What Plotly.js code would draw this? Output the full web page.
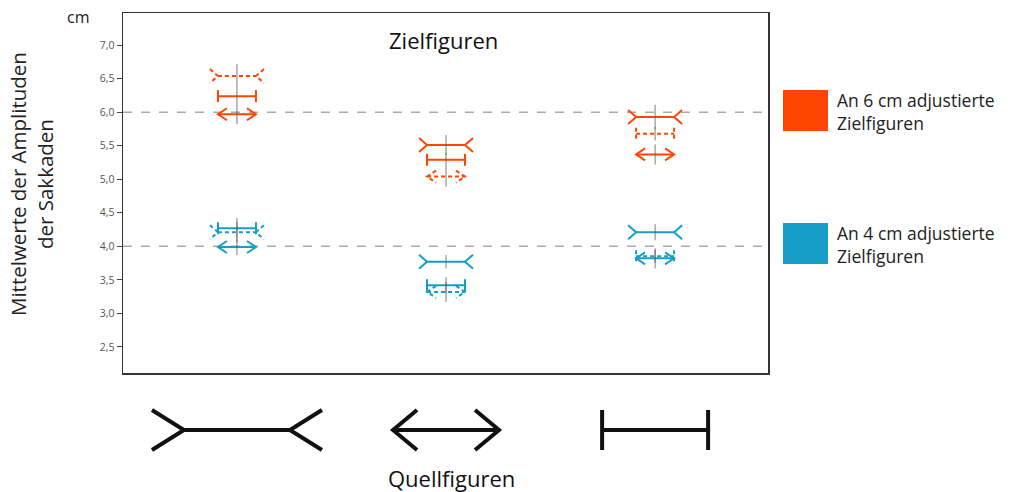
<!DOCTYPE html>
<html>
<head>
<meta charset="utf-8">
<script src="https://cdn.plot.ly/plotly-3.0.1.min.js"></script>
<style>html,body{margin:0;padding:0;background:#fff}#chart{width:1014px;height:492px}</style>
</head>
<body>
<div id="chart"></div>
<script>
// ---- data ----
// source figures (Quellfiguren) on the x axis, in order
var sourceFigures = ['finsOut', 'arrows', 'bars'];
// mean saccade amplitudes (cm) per target figure, adjusted to 6 cm
var finsOut6 = [6.54, 5.51, 5.93];
var bars6    = [6.24, 5.29, 5.68];
var arrows6  = [5.97, 5.04, 5.37];
// half-length of the vertical error lines
var finsOut6Err = [0.18, 0.15, 0.18];
var bars6Err    = [0.12, 0.10, 0.10];
var arrows6Err  = [0.15, 0.15, 0.15];
// adjusted to 4 cm
var finsOut4 = [4.21, 3.77, 4.21];
var bars4    = [4.27, 3.42, 3.85];
var arrows4  = [3.99, 3.32, 3.82];
var finsOut4Err = [0.15, 0.10, 0.12];
var bars4Err    = [0.15, 0.12, 0.10];
var arrows4Err  = [0.12, 0.15, 0.15];
var referenceLines = [4, 6];
var yTickVals = [2.5, 3.0, 3.5, 4.0, 4.5, 5.0, 5.5, 6.0, 6.5, 7.0];
var yTickText = ['2,5', '3,0', '3,5', '4,0', '4,5', '5,0', '5,5', '6,0', '6,5', '7,0'];
var legendNames = ['An 6 cm adjustierte<br>Zielfiguren', 'An 4 cm adjustierte<br>Zielfiguren'];

// ---- styles / geometry ----
var ORANGE = '#ff4500', BLUE = '#159fc8';
var FONT = 'Open Sans, sans-serif';
var W = 1014, H = 492, ML = 123, MR = 246, MT = 13, MB = 0;
var plotW = W - ML - MR, plotH = H - MT - MB;
var mainBottomPx = 373;
var mainDomainBottom = (H - MB - mainBottomPx) / plotH;
var xRange = [-0.545, 2.54];
var yRange = [2.11, 7.48];
var pxPerX = plotW / (xRange[1] - xRange[0]);
var pxPerY = (mainBottomPx - MT) / (yRange[1] - yRange[0]);
function px2x(p){ return p / pxPerX; }
function px2y(p){ return p / pxPerY; }
function paperX(px){ return (px - ML) / plotW; }
function paperY(py){ return (H - MB - py) / plotH; }

// build polyline for a figure kind
function figure(kind, cx, cy, w, fx, fy, out) {
  function seg(pts){ pts.forEach(function(p){ out.x.push(p[0]); out.y.push(p[1]); }); out.x.push(null); out.y.push(null); }
  if (kind === 'finsOut') {
    seg([[cx - w - fx, cy + fy], [cx - w, cy], [cx - w - fx, cy - fy]]);
    seg([[cx - w, cy], [cx + w, cy]]);
    seg([[cx + w + fx, cy + fy], [cx + w, cy], [cx + w + fx, cy - fy]]);
  } else if (kind === 'arrows') {
    seg([[cx - w + fx, cy + fy], [cx - w, cy], [cx - w + fx, cy - fy]]);
    seg([[cx - w, cy], [cx + w, cy]]);
    seg([[cx + w - fx, cy + fy], [cx + w, cy], [cx + w - fx, cy - fy]]);
  } else {
    seg([[cx - w, cy + fy], [cx - w, cy - fy]]);
    seg([[cx - w, cy], [cx + w, cy]]);
    seg([[cx + w, cy + fy], [cx + w, cy - fy]]);
  }
}
var mini = {
  finsOut: {w: px2x(19), fx: px2x(8), fy: px2y(7)},
  arrows:  {w: px2x(19), fx: px2x(9), fy: px2y(6)},
  bars:    {w: px2x(19), fx: 0,        fy: px2y(6)}
};

var groups = [
  {color: ORANGE, vals: {finsOut: finsOut6, arrows: arrows6, bars: bars6}, errs: {finsOut: finsOut6Err, arrows: arrows6Err, bars: bars6Err}},
  {color: BLUE,   vals: {finsOut: finsOut4, arrows: arrows4, bars: bars4}, errs: {finsOut: finsOut4Err, arrows: arrows4Err, bars: bars4Err}}
];

var traces = [];
groups.forEach(function(g){
  var solid = {x: [], y: []}, dotted = {x: [], y: []};
  var ex = [], ey = [], ee = [];
  sourceFigures.forEach(function(src, i){
    ['finsOut', 'bars', 'arrows'].forEach(function(kind){
      var m = mini[kind];
      var target = (kind === src) ? dotted : solid;
      figure(kind, i, g.vals[kind][i], m.w, m.fx, m.fy, target);
      ex.push(i); ey.push(g.vals[kind][i]); ee.push(g.errs[kind][i]);
    });
  });
  traces.push({type: 'scatter', mode: 'lines', x: solid.x, y: solid.y, xaxis: 'x', yaxis: 'y',
    line: {color: g.color, width: 2}, hoverinfo: 'skip', showlegend: false});
  traces.push({type: 'scatter', mode: 'lines', x: dotted.x, y: dotted.y, xaxis: 'x', yaxis: 'y',
    line: {color: g.color, width: 2, dash: '4px,3px'}, hoverinfo: 'skip', showlegend: false});
  traces.push({type: 'scatter', mode: 'markers', x: ex, y: ey, xaxis: 'x', yaxis: 'y',
    marker: {size: 1, opacity: 0}, showlegend: false, hoverinfo: 'skip',
    error_y: {type: 'data', array: ee, visible: true, color: 'rgba(90,90,90,0.8)', thickness: 1, width: 0}});
});

// big source figures below the plot (y2 in pixel units)
var big = {
  finsOut: {w: px2x(53), fx: px2x(32), fy: 20},
  arrows:  {w: px2x(53), fx: px2x(24), fy: 20},
  bars:    {w: px2x(53), fx: 0,        fy: 20}
};
var bigPts = {x: [], y: []};
var y2DomainTopPx = 390;
var y2Top = H - MB - y2DomainTopPx;
sourceFigures.forEach(function(src, i){
  var b = big[src];
  figure(src, i, H - MB - 430, b.w, b.fx, b.fy, bigPts);
});
traces.push({type: 'scatter', mode: 'lines', x: bigPts.x, y: bigPts.y, xaxis: 'x2', yaxis: 'y2',
  line: {color: '#111', width: 4}, hoverinfo: 'skip', showlegend: false});

var shapes = referenceLines.map(function(v){
  return {type: 'line', xref: 'paper', yref: 'y', x0: 0, x1: 1, y0: v, y1: v,
    line: {color: '#aaaaaa', width: 1.5, dash: 'dash'}, layer: 'below'};
});
// legend swatches
var swatches = [{color: ORANGE, top: 90}, {color: BLUE, top: 223}];
var annotations = [];
swatches.forEach(function(s, i){
  shapes.push({type: 'rect', xref: 'paper', yref: 'paper',
    x0: paperX(783), x1: paperX(828), y0: paperY(s.top + 41), y1: paperY(s.top),
    fillcolor: s.color, line: {width: 0}});
  annotations.push({xref: 'paper', yref: 'paper', x: paperX(835), y: paperY(s.top + 21),
    xanchor: 'left', yanchor: 'middle', align: 'left', showarrow: false,
    text: legendNames[i], font: {family: FONT, size: 17.5, color: '#222'}});
});
annotations.push({xref: 'paper', yref: 'paper', x: paperX(443), y: paperY(40), xanchor: 'center', yanchor: 'middle',
  showarrow: false, text: 'Zielfiguren', font: {family: FONT, size: 22, color: '#111'}});
annotations.push({xref: 'paper', yref: 'paper', x: paperX(451), y: paperY(478), xanchor: 'center', yanchor: 'middle',
  showarrow: false, text: 'Quellfiguren', font: {family: FONT, size: 22, color: '#111'}});
annotations.push({xref: 'paper', yref: 'paper', x: paperX(78), y: paperY(17), xanchor: 'center', yanchor: 'middle',
  showarrow: false, text: 'cm', font: {family: FONT, size: 16, color: '#222'}});
annotations.push({xref: 'paper', yref: 'paper', x: paperX(31), y: paperY(184), xanchor: 'center', yanchor: 'middle',
  showarrow: false, textangle: -90, text: 'Mittelwerte der Amplituden<br>der Sakkaden',
  font: {family: FONT, size: 20.5, color: '#222'}});

var layout = {
  width: W, height: H,
  margin: {l: ML, r: MR, t: MT, b: MB, pad: 0},
  paper_bgcolor: '#fff', plot_bgcolor: '#fff',
  showlegend: false,
  xaxis: {domain: [0, 1], range: xRange, anchor: 'y', showgrid: false, zeroline: false,
    showticklabels: false, ticks: '', showline: true, mirror: true, linecolor: '#333', linewidth: 1.5, fixedrange: true},
  yaxis: {domain: [mainDomainBottom, 1], range: yRange, anchor: 'x', showgrid: false, zeroline: false,
    tickvals: yTickVals, ticktext: yTickText, ticks: 'outside', ticklen: 5, tickcolor: '#444', tickwidth: 1,
    tickfont: {family: FONT, size: 10.5, color: '#555'},
    showline: true, mirror: true, linecolor: '#333', linewidth: 1.5, fixedrange: true},
  xaxis2: {domain: [0, 1], range: xRange, anchor: 'y2', visible: false, fixedrange: true},
  yaxis2: {domain: [0, y2Top / plotH], range: [0, y2Top], anchor: 'x2', visible: false, fixedrange: true},
  shapes: shapes,
  annotations: annotations
};
Plotly.newPlot('chart', traces, layout, {staticPlot: true, displayModeBar: false});
</script>
</body>
</html>
